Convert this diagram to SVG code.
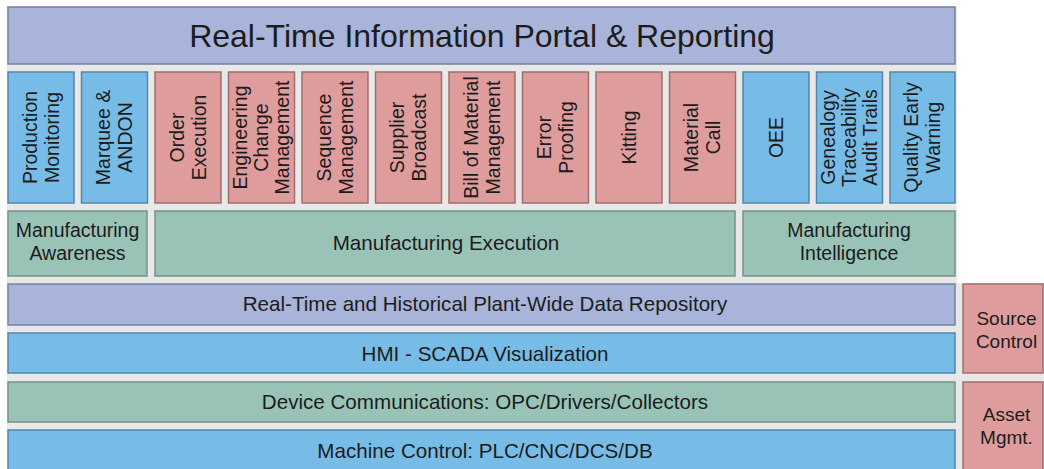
<svg xmlns="http://www.w3.org/2000/svg" width="1044" height="469" viewBox="0 0 1044 469">
  <style>
    .bg { fill: #e8e8e8; }
    .lav { fill: #a8b4d9; stroke: #75839f; stroke-width: 1.5; }
    .blue { fill: #77bce7; stroke: #5287ad; stroke-width: 1.5; }
    .pink { fill: #de9c9c; stroke: #a06e6e; stroke-width: 1.5; }
    .green { fill: #9ac3b7; stroke: #74938a; stroke-width: 1.5; }
    text { font-family: "Liberation Sans", Arial, sans-serif; fill: #1c1c1c; text-anchor: middle; }
    .t19 { font-size: 19.5px; }
    .side { font-size: 19px; }
    .layer { font-size: 20.6px; }
    .vt { font-size: 19.5px; }
    .title { font-size: 32px; }
  </style>

  <!-- background panels -->
  <rect class="bg" x="7" y="6" width="950" height="278"/>
  <rect class="bg" x="7" y="283" width="1037" height="186"/>

  <!-- top portal bar -->
  <g id="portal">
    <rect class="lav" x="8" y="7" width="947" height="57"/>
    <text class="title" x="482" y="47">Real-Time Information Portal &amp; Reporting</text>
  </g>

  <!-- application modules (vertical labels) -->
  <g id="production-monitoring">
    <rect class="blue" x="8" y="72" width="66" height="131"/>
    <text class="vt" transform="translate(41,137.5) rotate(-90)"><tspan x="0" y="-4.2">Production</tspan><tspan x="0" y="17.8">Monitoring</tspan></text>
  </g>
  <g id="marquee-andon">
    <rect class="blue" x="81.5" y="72" width="66" height="131"/>
    <text class="vt" transform="translate(114.5,137.5) rotate(-90)"><tspan x="0" y="-4.2">Marquee &amp;</tspan><tspan x="0" y="17.8">ANDON</tspan></text>
  </g>
  <g id="order-execution">
    <rect class="pink" x="155" y="72" width="66" height="131"/>
    <text class="vt" transform="translate(188,137.5) rotate(-90)"><tspan x="0" y="-4.2">Order</tspan><tspan x="0" y="17.8">Execution</tspan></text>
  </g>
  <g id="engineering-change">
    <rect class="pink" x="228.5" y="72" width="66" height="131"/>
    <text class="vt" transform="translate(261.5,137.5) rotate(-90)"><tspan x="0" y="-14.2">Engineering</tspan><tspan x="0" y="6.8">Change</tspan><tspan x="0" y="27.8">Management</tspan></text>
  </g>
  <g id="sequence-management">
    <rect class="pink" x="302" y="72" width="66" height="131"/>
    <text class="vt" transform="translate(335,137.5) rotate(-90)"><tspan x="0" y="-4.2">Sequence</tspan><tspan x="0" y="17.8">Management</tspan></text>
  </g>
  <g id="supplier-broadcast">
    <rect class="pink" x="375.5" y="72" width="66" height="131"/>
    <text class="vt" transform="translate(408.5,137.5) rotate(-90)"><tspan x="0" y="-4.2">Supplier</tspan><tspan x="0" y="17.8">Broadcast</tspan></text>
  </g>
  <g id="bom-management">
    <rect class="pink" x="449" y="72" width="66" height="131"/>
    <text class="vt" transform="translate(482,137.5) rotate(-90)"><tspan x="0" y="-4.2">Bill of Material</tspan><tspan x="0" y="17.8">Management</tspan></text>
  </g>
  <g id="error-proofing">
    <rect class="pink" x="522.5" y="72" width="66" height="131"/>
    <text class="vt" transform="translate(555.5,137.5) rotate(-90)"><tspan x="0" y="-4.2">Error</tspan><tspan x="0" y="17.8">Proofing</tspan></text>
  </g>
  <g id="kitting">
    <rect class="pink" x="596" y="72" width="66" height="131"/>
    <text class="vt" transform="translate(629,137.5) rotate(-90)"><tspan x="0" y="6.8">Kitting</tspan></text>
  </g>
  <g id="material-call">
    <rect class="pink" x="669.5" y="72" width="66" height="131"/>
    <text class="vt" transform="translate(702.5,137.5) rotate(-90)"><tspan x="0" y="-4.2">Material</tspan><tspan x="0" y="17.8">Call</tspan></text>
  </g>
  <g id="oee">
    <rect class="blue" x="743" y="72" width="66" height="131"/>
    <text class="vt" transform="translate(776,137.5) rotate(-90)"><tspan x="0" y="6.8">OEE</tspan></text>
  </g>
  <g id="genealogy">
    <rect class="blue" x="816.5" y="72" width="66" height="131"/>
    <text class="vt" transform="translate(849.5,137.5) rotate(-90)"><tspan x="0" y="-14.2">Genealogy</tspan><tspan x="0" y="6.8">Traceability</tspan><tspan x="0" y="27.8">Audit Trails</tspan></text>
  </g>
  <g id="quality-early-warning">
    <rect class="blue" x="890" y="72" width="65" height="131"/>
    <text class="vt" transform="translate(922.5,137.5) rotate(-90)"><tspan x="0" y="-4.2">Quality Early</tspan><tspan x="0" y="17.8">Warning</tspan></text>
  </g>

  <!-- functional groupings -->
  <g id="manufacturing-awareness">
    <rect class="green" x="8" y="211" width="139" height="65"/>
    <text class="t19" x="77.5" y="237"><tspan x="77.5">Manufacturing</tspan><tspan x="77.5" dy="23">Awareness</tspan></text>
  </g>
  <g id="manufacturing-execution">
    <rect class="green" x="155" y="211" width="580" height="65"/>
    <text class="layer" x="446" y="250">Manufacturing Execution</text>
  </g>
  <g id="manufacturing-intelligence">
    <rect class="green" x="743" y="211" width="212" height="65"/>
    <text class="t19" x="849" y="237"><tspan x="849">Manufacturing</tspan><tspan x="849" dy="23">Intelligence</tspan></text>
  </g>

  <!-- platform layers -->
  <g id="data-repository">
    <rect class="lav" x="8" y="284" width="947" height="41"/>
    <text class="layer" x="485" y="311">Real-Time and Historical Plant-Wide Data Repository</text>
  </g>
  <g id="hmi-scada">
    <rect class="blue" x="8" y="333" width="947" height="40"/>
    <text class="layer" x="485" y="361">HMI - SCADA Visualization</text>
  </g>
  <g id="device-communications">
    <rect class="green" x="8" y="382" width="947" height="40"/>
    <text class="layer" x="485" y="409">Device Communications: OPC/Drivers/Collectors</text>
  </g>
  <g id="machine-control">
    <rect class="blue" x="8" y="430" width="947" height="45"/>
    <text class="layer" x="485" y="458">Machine Control: PLC/CNC/DCS/DB</text>
  </g>

  <!-- side services -->
  <g id="source-control">
    <rect class="pink" x="963" y="284" width="80" height="89"/>
    <text class="side" x="1006.5" y="325"><tspan x="1006.5">Source</tspan><tspan x="1006.5" dy="23">Control</tspan></text>
  </g>
  <g id="asset-management">
    <rect class="pink" x="963" y="382" width="80" height="93"/>
    <text class="side" x="1006.5" y="421"><tspan x="1006.5">Asset</tspan><tspan x="1006.5" dy="23">Mgmt.</tspan></text>
  </g>
</svg>
